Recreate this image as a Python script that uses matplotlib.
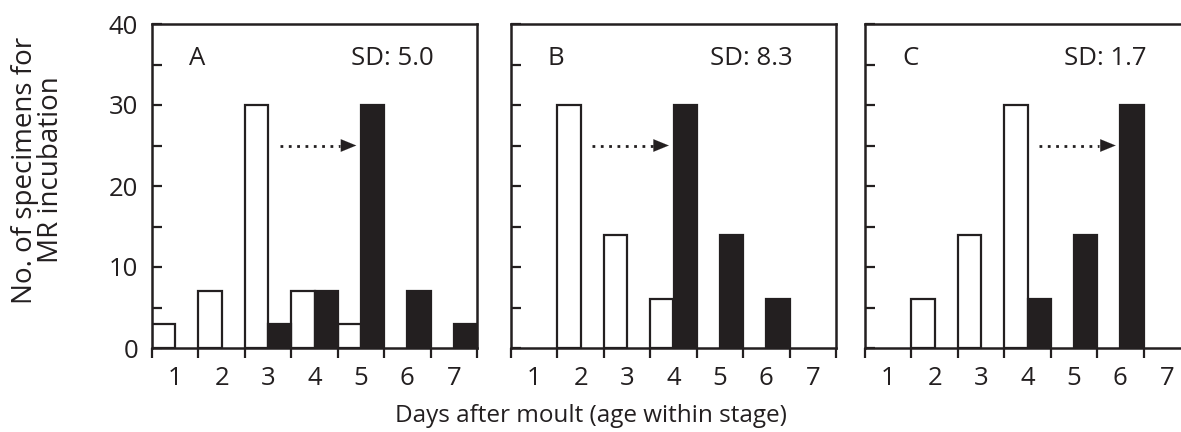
import matplotlib
matplotlib.use("Agg")
import matplotlib.pyplot as plt
import numpy as np

plt.rcParams['font.family'] = ['Open Sans', 'DejaVu Sans']

days = [1, 2, 3, 4, 5, 6, 7]
panel_labels = ["A", "B", "C"]
sd_labels = ["SD: 5.0", "SD: 8.3", "SD: 1.7"]
# white = before, black = after
white_A = [3, 7, 30, 7, 3, 0, 0]
black_A = [0, 0, 3, 7, 30, 7, 3]
white_B = [0, 30, 14, 6, 0, 0, 0]
black_B = [0, 0, 0, 30, 14, 6, 0]
white_C = [0, 6, 14, 30, 0, 0, 0]
black_C = [0, 0, 0, 6, 14, 30, 0]
arrow_from = [3.25, 2.25, 4.25]
arrow_to = [4.9, 3.9, 5.9]
arrow_y = 25

whites = [white_A, white_B, white_C]
blacks = [black_A, black_B, black_C]
lefts = [152, 511, 865]

ink = "#231f20"
fs = 18.5
W, H = 1181, 432
fig = plt.figure(figsize=(W / 100, H / 100), dpi=100)

for i in range(3):
    ax = fig.add_axes([lefts[i] / W, 1 - 348 / H, 325 / W, 324 / H])
    x = np.array(days)
    wv = np.array(whites[i])
    bv = np.array(blacks[i])
    mw = wv > 0
    mb = bv > 0
    ax.bar(x[mw] - 0.5, wv[mw], width=0.5, align='edge', color='white',
           edgecolor=ink, linewidth=1.6, zorder=2)
    ax.bar(x[mb], bv[mb], width=0.5, align='edge', color=ink,
           edgecolor=ink, linewidth=1.6, zorder=2)
    ax.set_xlim(0.5, 7.5)
    ax.set_ylim(0, 40)
    for s in ax.spines.values():
        s.set_linewidth(1.8)
        s.set_color(ink)
    ax.set_xticks(np.arange(0.5, 8, 1))
    ax.set_xticklabels([])
    ax.set_xticks(days, minor=True)
    ax.set_xticklabels([str(d) for d in days], minor=True, fontsize=fs, color=ink)
    ax.tick_params(axis='x', which='major', direction='out', length=7, width=1.6, color=ink)
    ax.tick_params(axis='x', which='minor', length=0, pad=13)
    ax.set_yticks([0, 10, 20, 30, 40])
    ax.set_yticks([5, 15, 25, 35], minor=True)
    ax.tick_params(axis='y', which='both', direction='in', length=7, width=1.6, color=ink,
                   labelsize=fs, labelcolor=ink, pad=10)
    if i > 0:
        ax.set_yticklabels([])
    ax.text(1.47, 35.8, panel_labels[i], fontsize=fs, color=ink, ha='center', va='center')
    ax.text(5.67, 35.8, sd_labels[i], fontsize=fs, color=ink, ha='center', va='center')
    ax.plot([arrow_from[i], arrow_to[i] - 0.35], [arrow_y, arrow_y], linestyle=(0, (1, 2)),
            color=ink, linewidth=2, zorder=3)
    ax.annotate("", xy=(arrow_to[i], arrow_y), xytext=(arrow_to[i] - 0.4, arrow_y),
                arrowprops=dict(arrowstyle='-|>,head_length=1.1,head_width=0.45',
                                color=ink, lw=0.1, shrinkA=0, shrinkB=0))

fig.text(0.5, 1 - 416 / H, "Days after moult (age within stage)", fontsize=17.5,
         color=ink, ha='center', va='center')
fig.text(38 / W, 1 - 170 / H, "No. of specimens for\nMR incubation", fontsize=20,
         color=ink, ha='center', va='center', rotation=90, linespacing=0.95)

fig.savefig("out.png", dpi=100)
